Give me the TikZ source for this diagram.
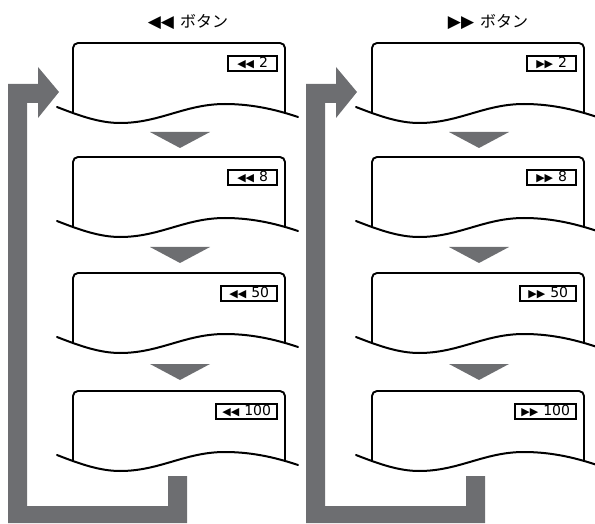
\documentclass[tikz,border=0pt]{standalone}
\usepackage{fontspec}
\setmainfont{DejaVu Sans}
\newfontfamily\jpfont{Noto Sans CJK JP}
\definecolor{loopgray}{RGB}{109,110,113}
\tikzset{
  screenline/.style={line width=1.9pt, line join=round, rounded corners=5pt},
  waveline/.style={line width=2pt, line cap=round},
  tag/.style={draw, line width=1.6pt, anchor=north east, minimum height=15pt,
    inner sep=0pt, font=\fontsize{14}{14}\selectfont},
  heading/.style={anchor=base, inner sep=0pt, font=\fontsize{16}{16}\selectfont},
  stepfill/.style={fill=loopgray},
}
\newcommand\smalltri[1]{{\fontsize{11}{11}\selectfont #1}}
\newcommand\bigtri[1]{{\fontsize{17}{17}\selectfont #1}}
\newcommand\myscreen[5]{%
  \begin{scope}[shift={(#2,#3)}]
    \draw[screenline] (73,70) -- (73,0) -- (285,0) -- (285,70);
    \draw[waveline] (57,64) .. controls (80,73) and (100,80) .. (120,80)
      .. controls (160,80) and (185,61) .. (225,61)
      .. controls (255,61) and (280,68) .. (298,74);
    \node[tag, minimum width=#5] (#1) at (278,12) {#4};
  \end{scope}}
\newcommand\mytri[2]{%
  \fill[stepfill] (#1+150,#2) -- (#1+210,#2) -- (#1+180,#2+16) -- cycle;}
\newcommand\myloop[1]{%
  \fill[stepfill] (#1+8,523) -- (#1+8,84) -- (#1+38,84) -- (#1+38,67) -- (#1+59,92)
    -- (#1+38,118) -- (#1+38,103) -- (#1+27,103) -- (#1+27,506) -- (#1+168,506)
    -- (#1+168,476) -- (#1+187,476) -- (#1+187,523) -- cycle;}
\begin{document}
\begin{tikzpicture}[x=1pt,y=-1pt]
\useasboundingbox (0,0) rectangle (595,524);

% headings
\node[heading] (headL) at (188,28) {\bigtri{◀◀}\hspace{6pt}{\jpfont ボタン}};
\node[heading] (headR) at (488,28) {\bigtri{▶▶}\hspace{6pt}{\jpfont ボタン}};

% loop arrows
\myloop{0}
\myloop{298}

% left column
\myscreen{L1}{0}{43}{\smalltri{◀◀}\hspace{5pt}2}{49pt}
\myscreen{L2}{0}{157}{\smalltri{◀◀}\hspace{5pt}8}{49pt}
\myscreen{L3}{0}{273}{\smalltri{◀◀}\hspace{5pt}50}{56pt}
\myscreen{L4}{0}{391}{\smalltri{◀◀}\hspace{5pt}100}{61pt}
\mytri{0}{132}
\mytri{0}{247}
\mytri{0}{364}

% right column
\myscreen{R1}{299}{43}{\smalltri{▶▶}\hspace{5pt}2}{49pt}
\myscreen{R2}{299}{157}{\smalltri{▶▶}\hspace{5pt}8}{49pt}
\myscreen{R3}{299}{273}{\smalltri{▶▶}\hspace{5pt}50}{56pt}
\myscreen{R4}{299}{391}{\smalltri{▶▶}\hspace{5pt}100}{61pt}
\mytri{299}{132}
\mytri{299}{247}
\mytri{299}{364}
\end{tikzpicture}
\end{document}
